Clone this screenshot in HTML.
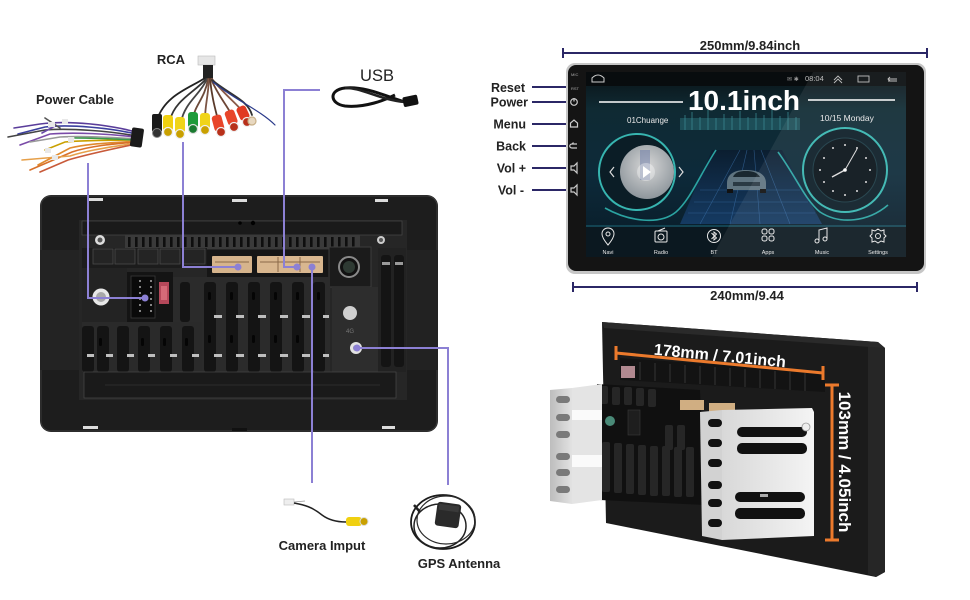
<!DOCTYPE html>
<html><head><meta charset="utf-8"><style>
html,body{margin:0;padding:0;background:#fff;width:970px;height:600px;overflow:hidden}
svg{display:block}
text{font-family:"Liberation Sans",sans-serif;}
</style></head><body>
<svg width="970" height="600" viewBox="0 0 970 600" xmlns="http://www.w3.org/2000/svg">
<defs>
<linearGradient id="scr" x1="0" y1="0" x2="0" y2="1">
<stop offset="0" stop-color="#0a1216"/><stop offset="0.2" stop-color="#0f2a33"/><stop offset="0.55" stop-color="#0d2a3a"/><stop offset="0.85" stop-color="#0a1f2c"/><stop offset="1" stop-color="#08141c"/>
</linearGradient>
<linearGradient id="floor" x1="0" y1="0" x2="0" y2="1">
<stop offset="0" stop-color="#0b1e30"/><stop offset="1" stop-color="#153a62"/>
</linearGradient>
<linearGradient id="silver" x1="0" y1="0" x2="1" y2="0">
<stop offset="0" stop-color="#d8d8d8"/><stop offset="1" stop-color="#f4f4f4"/>
</linearGradient>
<linearGradient id="silver2" x1="0" y1="0" x2="1" y2="0">
<stop offset="0" stop-color="#bdbdbd"/><stop offset="1" stop-color="#e2e2e2"/>
</linearGradient>
<radialGradient id="photo" cx="0.5" cy="0.4" r="0.6">
<stop offset="0" stop-color="#d8d8d8"/><stop offset="1" stop-color="#8e969c"/>
</radialGradient>
</defs>

<!-- ============ LEFT: BACK PANEL ============ -->
<rect x="40" y="195" width="398" height="237" rx="11" fill="#1d1d1d"/>
<rect x="41" y="196" width="396" height="235" rx="10" fill="none" stroke="#3a3a3a" stroke-width="1"/>
<rect x="40" y="250" width="40" height="120" fill="#232323"/>
<rect x="406" y="250" width="32" height="120" fill="#222"/>
<rect x="88" y="198" width="15" height="3" fill="#dcdcdc"/>
<rect x="232" y="199" width="15" height="3" fill="#dcdcdc"/>
<rect x="375" y="199" width="13" height="3" fill="#dcdcdc"/>
<rect x="83" y="426" width="15" height="3" fill="#dcdcdc"/>
<rect x="382" y="426" width="13" height="3" fill="#dcdcdc"/>
<rect x="232" y="428" width="15" height="3" fill="#111"/>
<rect x="79" y="220" width="328" height="180" fill="#262626"/>
<rect x="82" y="221" width="320" height="14" fill="#1a1a1a" stroke="#444" stroke-width="0.8"/>
<circle cx="240" cy="223" r="1.8" fill="#000"/><circle cx="253" cy="223" r="2.2" fill="#000"/>
<rect x="125" y="235" width="235" height="14" fill="#3a3a3a"/>
<g fill="#0e0e0e">
<rect x="128" y="237" width="2.6" height="10"/><rect x="135" y="237" width="2.6" height="10"/><rect x="142" y="237" width="2.6" height="10"/><rect x="149" y="237" width="2.6" height="10"/><rect x="156" y="237" width="2.6" height="10"/><rect x="163" y="237" width="2.6" height="10"/><rect x="170" y="237" width="2.6" height="10"/><rect x="177" y="237" width="2.6" height="10"/><rect x="184" y="237" width="2.6" height="10"/><rect x="191" y="237" width="2.6" height="10"/><rect x="198" y="237" width="2.6" height="10"/><rect x="205" y="237" width="2.6" height="10"/><rect x="212" y="237" width="2.6" height="10"/><rect x="219" y="237" width="2.6" height="10"/><rect x="226" y="237" width="2.6" height="10"/><rect x="233" y="237" width="2.6" height="10"/><rect x="240" y="237" width="2.6" height="10"/><rect x="247" y="237" width="2.6" height="10"/><rect x="254" y="237" width="2.6" height="10"/><rect x="261" y="237" width="2.6" height="10"/><rect x="268" y="237" width="2.6" height="10"/><rect x="275" y="237" width="2.6" height="10"/><rect x="282" y="237" width="2.6" height="10"/><rect x="289" y="237" width="2.6" height="10"/><rect x="296" y="237" width="2.6" height="10"/><rect x="303" y="237" width="2.6" height="10"/><rect x="310" y="237" width="2.6" height="10"/><rect x="317" y="237" width="2.6" height="10"/><rect x="324" y="237" width="2.6" height="10"/><rect x="331" y="237" width="2.6" height="10"/><rect x="338" y="237" width="2.6" height="10"/><rect x="345" y="237" width="2.6" height="10"/><rect x="352" y="237" width="2.6" height="10"/>
</g>
<circle cx="100" cy="240" r="5" fill="#ddd"/><circle cx="100" cy="240" r="2.5" fill="#555"/>
<circle cx="381" cy="240" r="4" fill="#ccc"/><circle cx="381" cy="240" r="2" fill="#555"/>
<circle cx="96" cy="383" r="4.5" fill="#ccc"/><circle cx="96" cy="383" r="2" fill="#555"/>
<circle cx="386" cy="385" r="4" fill="#bbb"/><circle cx="386" cy="385" r="2" fill="#555"/>
<rect x="82" y="248" width="125" height="20" fill="#1c1c1c"/>
<g fill="#242424" stroke="#4a4a4a" stroke-width="0.8">
<rect x="93" y="249" width="20" height="15"/><rect x="115" y="249" width="20" height="15"/><rect x="138" y="249" width="20" height="15"/><rect x="160" y="249" width="20" height="15"/><rect x="183" y="249" width="22" height="15"/>
</g>
<rect x="207" y="250" width="122" height="27" fill="#161616"/>
<rect x="212" y="256" width="40" height="17" rx="1" fill="#d6b48c"/>
<rect x="257" y="256" width="66" height="17" rx="1" fill="#d9b78f"/>
<g stroke="#8a6a48" stroke-width="1">
<line x1="215" y1="262" x2="249" y2="262"/><line x1="260" y1="262" x2="320" y2="262"/>
<line x1="278" y1="257" x2="278" y2="272"/><line x1="300" y1="257" x2="300" y2="272"/>
</g>
<rect x="329" y="247" width="42" height="40" fill="#1b1b1b" stroke="#3c3c3c"/>
<circle cx="349" cy="267" r="10" fill="#111" stroke="#8a8a8a" stroke-width="2"/>
<circle cx="349" cy="267" r="6" fill="#2e3a33"/>
<rect x="82" y="268" width="45" height="54" fill="#232323"/>
<circle cx="101" cy="297" r="8.5" fill="#e8e8e8"/>
<circle cx="101" cy="297" r="5" fill="#a8a8a8"/>
<rect x="127" y="272" width="46" height="50" fill="#141414"/>
<rect x="131" y="276" width="24" height="42" fill="#0a0a0a" stroke="#3a3a3a" stroke-width="0.8"/>
<g fill="#ddd">
<circle cx="140" cy="281" r="0.9"/><circle cx="140" cy="287" r="0.9"/><circle cx="140" cy="293" r="0.9"/><circle cx="140" cy="299" r="0.9"/><circle cx="140" cy="305" r="0.9"/><circle cx="140" cy="311" r="0.9"/>
<circle cx="151" cy="281" r="0.9"/><circle cx="151" cy="287" r="0.9"/><circle cx="151" cy="293" r="0.9"/><circle cx="151" cy="299" r="0.9"/><circle cx="151" cy="305" r="0.9"/><circle cx="151" cy="311" r="0.9"/>
</g>
<rect x="159" y="282" width="10" height="22" fill="#b5485a"/>
<rect x="161" y="286" width="6" height="14" fill="#d46a78"/>
<rect x="173" y="277" width="157" height="95" fill="#2b2b2b"/>
<g fill="#141414">
<rect x="180" y="282" width="10" height="40" rx="3"/>
<rect x="204" y="282" width="12" height="90" rx="3"/><rect x="226" y="282" width="12" height="90" rx="3"/><rect x="248" y="282" width="12" height="90" rx="3"/><rect x="270" y="282" width="12" height="90" rx="3"/><rect x="292" y="282" width="12" height="90" rx="3"/><rect x="313" y="282" width="12" height="90" rx="3"/>
</g>
<rect x="82" y="322" width="120" height="50" fill="#2a2a2a"/>
<g fill="#141414">
<rect x="82" y="326" width="12" height="46" rx="3"/><rect x="97" y="326" width="12" height="46" rx="3"/><rect x="117" y="326" width="12" height="46" rx="3"/><rect x="138" y="326" width="12" height="46" rx="3"/><rect x="160" y="326" width="12" height="46" rx="3"/><rect x="182" y="326" width="12" height="46" rx="3"/>
</g>
<g fill="#bfbfbf">
<rect x="214" y="315" width="8" height="3"/><rect x="236" y="315" width="8" height="3"/><rect x="258" y="315" width="8" height="3"/><rect x="280" y="315" width="8" height="3"/><rect x="302" y="315" width="8" height="3"/><rect x="323" y="315" width="6" height="3"/>
<rect x="87" y="354" width="7" height="3"/><rect x="106" y="354" width="7" height="3"/><rect x="127" y="354" width="7" height="3"/><rect x="148" y="354" width="7" height="3"/><rect x="170" y="354" width="7" height="3"/><rect x="192" y="354" width="7" height="3"/><rect x="214" y="354" width="8" height="3"/><rect x="236" y="354" width="8" height="3"/><rect x="258" y="354" width="8" height="3"/><rect x="280" y="354" width="8" height="3"/><rect x="302" y="354" width="8" height="3"/><rect x="323" y="354" width="6" height="3"/>
</g>
<g fill="#050505">
<rect x="208" y="292" width="3" height="8" rx="1.5"/><rect x="230" y="292" width="3" height="8" rx="1.5"/><rect x="252" y="292" width="3" height="8" rx="1.5"/><rect x="274" y="292" width="3" height="8" rx="1.5"/><rect x="296" y="292" width="3" height="8" rx="1.5"/><rect x="317" y="292" width="3" height="8" rx="1.5"/>
<rect x="208" y="335" width="3" height="8" rx="1.5"/><rect x="230" y="335" width="3" height="8" rx="1.5"/><rect x="252" y="335" width="3" height="8" rx="1.5"/><rect x="274" y="335" width="3" height="8" rx="1.5"/><rect x="296" y="335" width="3" height="8" rx="1.5"/>
<rect x="99" y="338" width="3" height="8" rx="1.5"/><rect x="141" y="338" width="3" height="8" rx="1.5"/><rect x="163" y="338" width="3" height="8" rx="1.5"/><rect x="185" y="338" width="3" height="8" rx="1.5"/>
</g>
<rect x="332" y="287" width="46" height="85" fill="#2d2d2d"/>
<circle cx="350" cy="313" r="7" fill="#cfcfcf"/>
<text x="350" y="333" font-size="6" fill="#777" text-anchor="middle">4G</text>
<circle cx="356" cy="348" r="6" fill="#e2e2e2"/>
<circle cx="356" cy="348" r="3" fill="#8a86b8"/>
<rect x="378" y="248" width="28" height="124" fill="#222"/>
<rect x="381" y="255" width="10" height="112" rx="3" fill="#141414"/>
<rect x="394" y="255" width="10" height="112" rx="3" fill="#141414"/>
<rect x="382" y="262" width="8" height="3" fill="#999"/><rect x="395" y="262" width="8" height="3" fill="#999"/>
<rect x="84" y="372" width="312" height="26" fill="#1a1a1a" stroke="#444" stroke-width="0.8"/>
<line x1="105" y1="385" x2="380" y2="385" stroke="#2c2c2c" stroke-width="1"/>

<!-- ============ PURPLE CONNECTOR LINES ============ -->
<g stroke="#8c80d4" stroke-width="2" fill="none">
<polyline points="88,163 88,298 145,298"/>
<polyline points="183,142 183,267 238,267"/>
<polyline points="320,90 284,90 284,267 297,267"/>
<polyline points="312,267 312,483"/>
<polyline points="357,348 448,348 448,485"/>
</g>
<g fill="#8c80d4">
<circle cx="145" cy="298" r="3.5"/><circle cx="238" cy="267" r="3.5"/><circle cx="297" cy="267" r="3.5"/><circle cx="312" cy="267" r="3.5"/><circle cx="357" cy="348" r="3.5"/>
</g>

<!-- ============ CABLE IMAGES ============ -->
<g fill="none" stroke-width="1.6" stroke-linecap="round">
<path d="M136,132 C110,125 70,120 40,124 L14,128" stroke="#5a3d9a"/>
<path d="M136,134 C110,128 70,124 45,127 L18,134" stroke="#3b3f9e"/>
<path d="M136,136 C110,131 70,128 45,130 L8,137" stroke="#444"/>
<path d="M136,137 C110,134 75,132 50,134 L20,145" stroke="#7a4aa8"/>
<path d="M136,139 C112,137 80,136 60,137 L30,142" stroke="#999"/>
<path d="M136,140 C115,140 85,140 65,142 L45,150" stroke="#c9a000"/>
<path d="M136,141 C115,143 90,143 70,148 L38,165" stroke="#e08a2e"/>
<path d="M136,142 C112,144 90,146 72,152 L30,170" stroke="#d8702a"/>
<path d="M136,143 C112,147 88,150 70,156 L22,160" stroke="#e6a04a"/>
<path d="M136,144 C112,149 88,154 68,160 L40,172" stroke="#c85a3a"/>
<path d="M136,140 C115,139 95,138 75,138" stroke="#3a9a4a"/>
<path d="M60,128 L45,118" stroke="#555"/>
<path d="M55,126 L42,133" stroke="#6a4aaa"/>
</g>
<g fill="#e8e8e8">
<rect x="48" y="122" width="7" height="5"/><rect x="62" y="119" width="6" height="5"/><rect x="68" y="137" width="6" height="5"/><rect x="45" y="148" width="6" height="5"/><rect x="52" y="155" width="6" height="5"/>
</g>
<rect x="131" y="128" width="12" height="19" rx="2" fill="#1a1a1a" transform="rotate(8 137 137)"/>
<rect x="198" y="56" width="17" height="9" fill="#e6e6e6" stroke="#bbb" stroke-width="0.6"/>
<rect x="203" y="65" width="10" height="14" fill="#222"/>
<g fill="none" stroke-width="1.8" stroke-linecap="round">
<path d="M205,78 C190,88 165,95 157,120" stroke="#222"/>
<path d="M206,79 C195,92 175,100 170,120" stroke="#333"/>
<path d="M207,79 C200,95 185,102 181,122" stroke="#444"/>
<path d="M208,79 C205,98 195,105 193,118" stroke="#6b4a3a"/>
<path d="M209,79 C208,98 205,105 205,120" stroke="#7b5444"/>
<path d="M210,79 C212,98 215,108 218,120" stroke="#5a3a2a"/>
<path d="M211,79 C218,95 225,103 230,112" stroke="#6d4636"/>
<path d="M212,79 C225,95 238,105 244,113" stroke="#8a5a48"/>
<path d="M212,80 C230,95 248,100 252,115" stroke="#333"/>
<path d="M213,82 C235,100 260,110 275,125" stroke="#2a3a8a" stroke-width="1.2"/>
</g>
<g>
<rect x="152" y="114" width="10" height="18" rx="2" fill="#1a1a1a"/>
<circle cx="157" cy="133" r="4.5" fill="#333" stroke="#888" stroke-width="1"/>
<rect x="163" y="115" width="10" height="16" rx="3" fill="#f0d010"/>
<circle cx="168" cy="132" r="4.5" fill="#c9a000" stroke="#eee" stroke-width="1.2"/>
<rect x="175" y="117" width="10" height="16" rx="3" fill="#f0d418"/>
<circle cx="180" cy="134" r="4.5" fill="#c9a000" stroke="#eee" stroke-width="1.2"/>
<rect x="188" y="112" width="10" height="16" rx="3" fill="#1f9a3a"/>
<circle cx="193" cy="129" r="4.5" fill="#1a7a30" stroke="#ddd" stroke-width="1.2"/>
<rect x="200" y="113" width="10" height="16" rx="3" fill="#f0d418"/>
<circle cx="205" cy="130" r="4.5" fill="#c9a000" stroke="#eee" stroke-width="1.2"/>
<rect x="213" y="115" width="10" height="16" rx="3" fill="#e8452a" transform="rotate(-15 218 123)"/>
<circle cx="221" cy="132" r="4.5" fill="#b8301a" stroke="#eee" stroke-width="1.2"/>
<rect x="226" y="110" width="10" height="15" rx="3" fill="#e8452a" transform="rotate(-20 231 117)"/>
<circle cx="234" cy="127" r="4.5" fill="#b8301a" stroke="#eee" stroke-width="1.2"/>
<rect x="238" y="106" width="10" height="14" rx="3" fill="#e03a22" transform="rotate(-25 243 113)"/>
<circle cx="247" cy="122" r="4.5" fill="#b8301a" stroke="#eee" stroke-width="1.2"/>
<circle cx="252" cy="121" r="4" fill="#e8d8c0" stroke="#c8b088" stroke-width="1.2"/>
</g>
<path d="M405,102 C385,96 365,86 345,88 C328,90 330,104 345,106 C365,108 385,100 395,95" fill="none" stroke="#111" stroke-width="3"/>
<path d="M345,88 C360,87 380,100 405,102" fill="none" stroke="#222" stroke-width="2.5"/>
<rect x="403" y="96" width="15" height="10" rx="2" fill="#111" transform="rotate(-12 410 101)"/>
<rect x="284" y="499" width="10" height="6" fill="#eee" stroke="#bbb" stroke-width="0.6"/>
<path d="M294,503 C305,505 312,507 322,515 C330,521 340,522 346,522" fill="none" stroke="#222" stroke-width="1.5"/>
<path d="M294,502 L305,501" stroke="#999" stroke-width="0.8"/>
<rect x="346" y="517" width="16" height="9" rx="3" fill="#f0d010"/>
<circle cx="364" cy="521.5" r="4" fill="#c9a000" stroke="#ddd" stroke-width="1"/>
<ellipse cx="443" cy="522" rx="32" ry="27" fill="none" stroke="#1a1a1a" stroke-width="1.8"/>
<ellipse cx="440" cy="526" rx="26" ry="22" fill="none" stroke="#222" stroke-width="1.5"/>
<ellipse cx="446" cy="520" rx="29" ry="24" fill="none" stroke="#2a2a2a" stroke-width="1.2"/>
<rect x="436" y="503" width="24" height="24" rx="3" fill="#2a2a2a" transform="rotate(8 448 515)"/>
<rect x="438" y="505" width="20" height="6" fill="#3a3a3a" transform="rotate(8 448 515)"/>
<path d="M420,512 L414,505" stroke="#222" stroke-width="2.5"/>

<g fill="#222" font-weight="bold" font-size="13">
<text x="75" y="104" text-anchor="middle">Power Cable</text>
<text x="171" y="64" text-anchor="middle">RCA</text>
<text x="322" y="550" text-anchor="middle">Camera Imput</text>
<text x="459" y="568" text-anchor="middle">GPS Antenna</text>
</g>
<text x="377" y="81" fill="#222" font-size="16.5" text-anchor="middle">USB</text>

<!-- ============ TOP RIGHT: SCREEN ============ -->
<g stroke="#2b2766" stroke-width="2">
<line x1="563" y1="53" x2="927" y2="53"/><line x1="563" y1="48" x2="563" y2="58"/><line x1="927" y1="48" x2="927" y2="58"/>
<line x1="573" y1="287" x2="917" y2="287"/><line x1="573" y1="282" x2="573" y2="292"/><line x1="917" y1="282" x2="917" y2="292"/>
<line x1="532" y1="87" x2="570" y2="87"/><line x1="532" y1="102" x2="570" y2="102"/><line x1="532" y1="124" x2="570" y2="124"/><line x1="532" y1="146" x2="570" y2="146"/><line x1="532" y1="168" x2="570" y2="168"/><line x1="532" y1="190" x2="570" y2="190"/>
</g>
<g fill="#222" font-weight="bold" font-size="13">
<text x="750" y="50" text-anchor="middle">250mm/9.84inch</text>
<text x="747" y="300" text-anchor="middle">240mm/9.44</text>
</g>
<g fill="#222" font-weight="bold" font-size="12.5" text-anchor="end">
<text x="525" y="92">Reset</text>
<text x="528" y="106.5">Power</text>
<text x="526" y="128.5">Menu</text>
<text x="526" y="150.5">Back</text>
<text x="526" y="172.5">Vol +</text>
<text x="524" y="194.5">Vol -</text>
</g>
<rect x="566" y="63" width="360" height="211" rx="9" fill="#c6c6c6"/>
<rect x="568" y="65" width="356" height="206" rx="8" fill="#141414"/>
<rect x="586" y="72" width="320" height="185" fill="url(#scr)"/>
<text x="571" y="76" font-size="4" fill="#aaa">MIC</text>
<text x="571" y="90" font-size="4" fill="#aaa">RST</text>
<g stroke="#ccc" stroke-width="1.2" fill="none">
<circle cx="574" cy="102" r="3.3"/><line x1="574" y1="98" x2="574" y2="101.5"/>
<path d="M570.5,127 L570.5,123 L574,120 L577.5,123 L577.5,127 Z"/>
<path d="M577,148 L572,148 C569,148 569,144 572,144 L577,144 M572,144 L573.5,142.5"/>
<path d="M571,166 L574,166 L577,163 L577,173 L574,170 L571,170 Z"/>
<path d="M571,188 L574,188 L577,185 L577,195 L574,192 L571,192 Z"/>
</g>
<rect x="586" y="72" width="320" height="14" fill="#080c0e"/>
<path d="M592,82 L592,78 C596,74 600,74 604,78 L604,82 Z" fill="none" stroke="#ccc" stroke-width="1"/>
<text x="805" y="81" font-size="7.5" fill="#bbb">08:04</text>
<text x="787" y="81" font-size="6" fill="#999">✉ ✱</text>
<path d="M834,80 L838,76 L842,80 M834,83 L838,79 L842,83" fill="none" stroke="#bbb" stroke-width="0.9"/>
<rect x="858" y="76" width="11" height="6" fill="none" stroke="#bbb" stroke-width="0.9"/>
<path d="M897,79 L888,79 M890,77 L888,79 L890,81 M888,81 L897,81" fill="none" stroke="#bbb" stroke-width="0.9"/>
<g fill="#2a6c74" opacity="0.55">
<rect x="680" y="118" width="120" height="12"/>
</g>
<g stroke="#3d8f98" stroke-width="1" opacity="0.7">
<line x1="685" y1="115" x2="685" y2="130"/><line x1="692" y1="112" x2="692" y2="130"/><line x1="700" y1="117" x2="700" y2="130"/><line x1="708" y1="110" x2="708" y2="130"/><line x1="716" y1="118" x2="716" y2="130"/><line x1="724" y1="114" x2="724" y2="130"/><line x1="732" y1="116" x2="732" y2="130"/><line x1="740" y1="111" x2="740" y2="130"/><line x1="748" y1="117" x2="748" y2="130"/><line x1="756" y1="113" x2="756" y2="130"/><line x1="764" y1="115" x2="764" y2="130"/><line x1="772" y1="110" x2="772" y2="130"/><line x1="780" y1="116" x2="780" y2="130"/><line x1="788" y1="112" x2="788" y2="130"/><line x1="796" y1="117" x2="796" y2="130"/>
</g>
<polygon points="712,150 782,150 822,224 680,224" fill="url(#floor)"/>
<g stroke="#3f78b4" stroke-width="0.6" opacity="0.6">
<line x1="740" y1="150" x2="700" y2="224"/><line x1="747" y1="150" x2="730" y2="224"/><line x1="754" y1="150" x2="760" y2="224"/><line x1="761" y1="150" x2="790" y2="224"/>
<line x1="700" y1="190" x2="800" y2="190"/><line x1="694" y1="202" x2="808" y2="202"/><line x1="688" y1="213" x2="815" y2="213"/>
</g>
<g fill="none" stroke="#2fb2ae" stroke-width="1.6" opacity="0.9">
<path d="M716,150 C700,175 690,200 676,212 C660,225 630,222 605,208"/>
<path d="M778,152 C795,175 805,200 820,212 C840,225 868,222 888,205"/>
<path d="M586,226 L906,226" stroke="#1f6f80" stroke-width="1"/>
</g>
<circle cx="637" cy="172" r="38" fill="#0b1d26" stroke="#37b5b0" stroke-width="2"/>
<circle cx="647" cy="172" r="27" fill="url(#photo)"/>
<rect x="640" y="150" width="10" height="30" fill="#6a7aa8" opacity="0.5"/>
<circle cx="646" cy="172" r="9" fill="#fff" opacity="0.35"/>
<path d="M643,166 L651,172 L643,178 Z" fill="#fff"/>
<path d="M614,167 L610,172 L614,177" fill="none" stroke="#ddd" stroke-width="1.2"/>
<path d="M679,167 L683,172 L679,177" fill="none" stroke="#ddd" stroke-width="1.2"/>
<circle cx="845" cy="170" r="42" fill="#0b1d26" stroke="#37b5b0" stroke-width="2"/>
<circle cx="845" cy="170" r="32" fill="#081218" stroke="#1a3a44" stroke-width="1"/>
<g fill="#ddd">
<circle cx="845" cy="145" r="1"/><circle cx="857" cy="148" r="1"/><circle cx="866" cy="158" r="1"/><circle cx="870" cy="170" r="1"/><circle cx="866" cy="182" r="1"/><circle cx="857" cy="191" r="1"/><circle cx="845" cy="195" r="1"/><circle cx="833" cy="191" r="1"/><circle cx="824" cy="182" r="1"/><circle cx="820" cy="170" r="1"/><circle cx="824" cy="158" r="1"/><circle cx="833" cy="148" r="1"/>
</g>
<line x1="845" y1="170" x2="857" y2="149" stroke="#ddd" stroke-width="1"/>
<line x1="845" y1="170" x2="832" y2="177" stroke="#ddd" stroke-width="1.4"/>
<circle cx="845" cy="170" r="1.8" fill="#fff"/>
<path d="M727,183 C727,175 733,170 746,170 C759,170 766,175 766,183 L766,190 L727,190 Z" fill="#5f7480"/>
<path d="M733,177 C735,172 740,171 746,171 C752,171 757,172 760,177 Z" fill="#1a2830"/>
<rect x="733" y="182" width="27" height="4" fill="#2a3a44"/>
<rect x="727" y="189" width="6" height="4" fill="#111"/><rect x="760" y="189" width="6" height="4" fill="#111"/>
<line x1="599" y1="102" x2="683" y2="102" stroke="#fff" stroke-width="1.6"/>
<line x1="808" y1="100" x2="895" y2="100" stroke="#fff" stroke-width="1.6"/>
<text x="744" y="110" font-size="28" font-weight="bold" fill="#fff" text-anchor="middle">10.1inch</text>
<text x="627" y="123" font-size="8" fill="#e8e8e8">01Chuange</text>
<text x="820" y="121" font-size="8.5" fill="#e8e8e8">10/15 Monday</text>
<rect x="586" y="227" width="320" height="30" fill="#0b1820"/>
<g fill="none" stroke="#e8e8e8" stroke-width="1">
<path d="M608,245 C603,239 602,236 602,234 C602,230 605,228 608,228 C611,228 614,230 614,234 C614,236 613,239 608,245 Z"/><circle cx="608" cy="234" r="2"/>
<rect x="655" y="231" width="12" height="11" rx="1"/><circle cx="661" cy="237" r="3"/><line x1="658" y1="231" x2="665" y2="228"/>
<circle cx="714" cy="236" r="6.5"/><path d="M711.5,233 L716.5,238 L714,240 L714,232 L716.5,234 L711.5,239"/>
<rect x="762" y="229" width="5" height="5" rx="2"/><rect x="769" y="229" width="5" height="5" rx="2"/><rect x="762" y="236" width="5" height="5" rx="2"/><rect x="769" y="236" width="5" height="5" rx="2"/>
<path d="M819,241 L819,230 L827,228 L827,239"/><circle cx="817" cy="241" r="2"/><circle cx="825" cy="239" r="2"/>
<circle cx="878" cy="236" r="2.5"/><path d="M878,229 L881,231 L884,230 L884,234 L886,236 L884,238 L884,242 L881,241 L878,243 L875,241 L872,242 L872,238 L870,236 L872,234 L872,230 L875,231 Z"/>
</g>
<g fill="#e8e8e8" font-size="5.5" text-anchor="middle">
<text x="608" y="254">Navi</text><text x="661" y="254">Radio</text><text x="714" y="254">BT</text><text x="768" y="254">Apps</text><text x="822" y="254">Music</text><text x="878" y="254">Settings</text>
</g>
<polygon points="813,72 906,72 906,257 712,257" fill="#fff" opacity="0.07"/>

<!-- ============ BOTTOM RIGHT: 3D VIEW ============ -->
<polygon points="602,322 878,342 885,348 885,572 876,577 606,523" fill="#1b1b1b"/>
<polygon points="868,346 885,348 885,572 876,577 868,574" fill="#262626"/>
<polygon points="602,322 878,342 885,348 604,328" fill="#2a2a2a"/>
<polygon points="620,358 825,372 825,392 620,380" fill="#131313"/>
<g stroke="#2a2a2a" stroke-width="1.5">
<line x1="640" y1="362" x2="640" y2="380"/><line x1="655" y1="363" x2="655" y2="381"/><line x1="670" y1="364" x2="670" y2="382"/><line x1="685" y1="365" x2="685" y2="383"/><line x1="700" y1="366" x2="700" y2="384"/><line x1="715" y1="367" x2="715" y2="385"/><line x1="730" y1="368" x2="730" y2="386"/><line x1="745" y1="369" x2="745" y2="387"/><line x1="760" y1="370" x2="760" y2="388"/><line x1="775" y1="371" x2="775" y2="389"/><line x1="790" y1="372" x2="790" y2="390"/><line x1="805" y1="373" x2="805" y2="391"/>
</g>
<rect x="621" y="366" width="14" height="12" fill="#d9a8b0" opacity="0.8"/>
<polygon points="597,384 700,390 705,505 600,500" fill="#101010"/>
<g fill="#262626">
<rect x="600" y="386" width="8" height="18" rx="2"/><rect x="612" y="387" width="8" height="18" rx="2"/><rect x="624" y="387" width="8" height="18" rx="2"/><rect x="636" y="388" width="8" height="18" rx="2"/><rect x="648" y="389" width="8" height="18" rx="2"/>
<rect x="602" y="442" width="8" height="50" rx="2"/><rect x="614" y="443" width="8" height="50" rx="2"/><rect x="626" y="444" width="8" height="50" rx="2"/><rect x="638" y="445" width="8" height="50" rx="2"/><rect x="650" y="446" width="8" height="50" rx="2"/><rect x="662" y="446" width="8" height="50" rx="2"/><rect x="674" y="447" width="8" height="50" rx="2"/><rect x="686" y="447" width="8" height="50" rx="2"/>
<rect x="665" y="425" width="8" height="25" rx="2"/><rect x="677" y="425" width="8" height="25" rx="2"/>
</g>
<circle cx="610" cy="421" r="5" fill="#4a8a78"/>
<rect x="628" y="410" width="12" height="25" fill="#1e1e1e" stroke="#3a3a3a" stroke-width="0.6"/>
<rect x="680" y="400" width="24" height="10" fill="#d0ae82"/>
<rect x="709" y="403" width="26" height="9" fill="#d0ae82"/>
<polygon points="572,388 602,384 602,500 572,504" fill="#e4e4e4"/>
<polygon points="550,390 572,388 572,504 550,501" fill="url(#silver2)"/>
<g fill="#7a7a7a">
<rect x="556" y="396" width="14" height="7" rx="3.5"/><rect x="556" y="414" width="14" height="7" rx="3.5"/><rect x="556" y="431" width="14" height="7" rx="3.5"/><rect x="556" y="453" width="14" height="7" rx="3.5"/><rect x="556" y="469" width="14" height="7" rx="3.5"/><rect x="556" y="486" width="14" height="7" rx="3.5"/>
</g>
<rect x="572" y="410" width="30" height="10" fill="#fafafa"/>
<rect x="572" y="455" width="30" height="12" fill="#fafafa"/>
<polygon points="700,412 722,410 722,540 702,536" fill="#d2d2d2"/>
<polygon points="722,410 812,408 814,412 814,536 722,540" fill="url(#silver)"/>
<g fill="#111">
<rect x="708" y="419" width="14" height="8" rx="4"/><rect x="708" y="439" width="14" height="8" rx="4"/><rect x="708" y="459" width="14" height="8" rx="4"/><rect x="708" y="481" width="14" height="8" rx="4"/><rect x="708" y="499" width="14" height="8" rx="4"/><rect x="708" y="519" width="14" height="8" rx="4"/>
<rect x="737" y="427" width="70" height="10" rx="5"/><rect x="737" y="443" width="70" height="11" rx="5"/><rect x="735" y="492" width="70" height="10" rx="5"/><rect x="735" y="508" width="70" height="11" rx="5"/>
</g>
<circle cx="806" cy="427" r="4" fill="#eee" stroke="#999" stroke-width="0.8"/>
<rect x="760" y="494" width="8" height="3" fill="#aaa"/>
<g stroke="#ec7a2c" stroke-width="3" fill="none">
<line x1="616" y1="353" x2="823" y2="373"/>
<line x1="616" y1="346" x2="616" y2="360"/><line x1="823" y1="366" x2="823" y2="380"/>
<line x1="832" y1="385" x2="832" y2="540"/>
<line x1="825" y1="385" x2="839" y2="385"/><line x1="825" y1="540" x2="839" y2="540"/>
</g>
<text x="720" y="361" font-size="16" font-weight="bold" fill="#fff" text-anchor="middle" transform="rotate(5.5 720 355)">178mm / 7.01inch</text>
<text x="0" y="0" font-size="17" font-weight="bold" fill="#fff" text-anchor="middle" transform="translate(839 462) rotate(90)">103mm / 4.05inch</text>
</svg>
</body></html>
